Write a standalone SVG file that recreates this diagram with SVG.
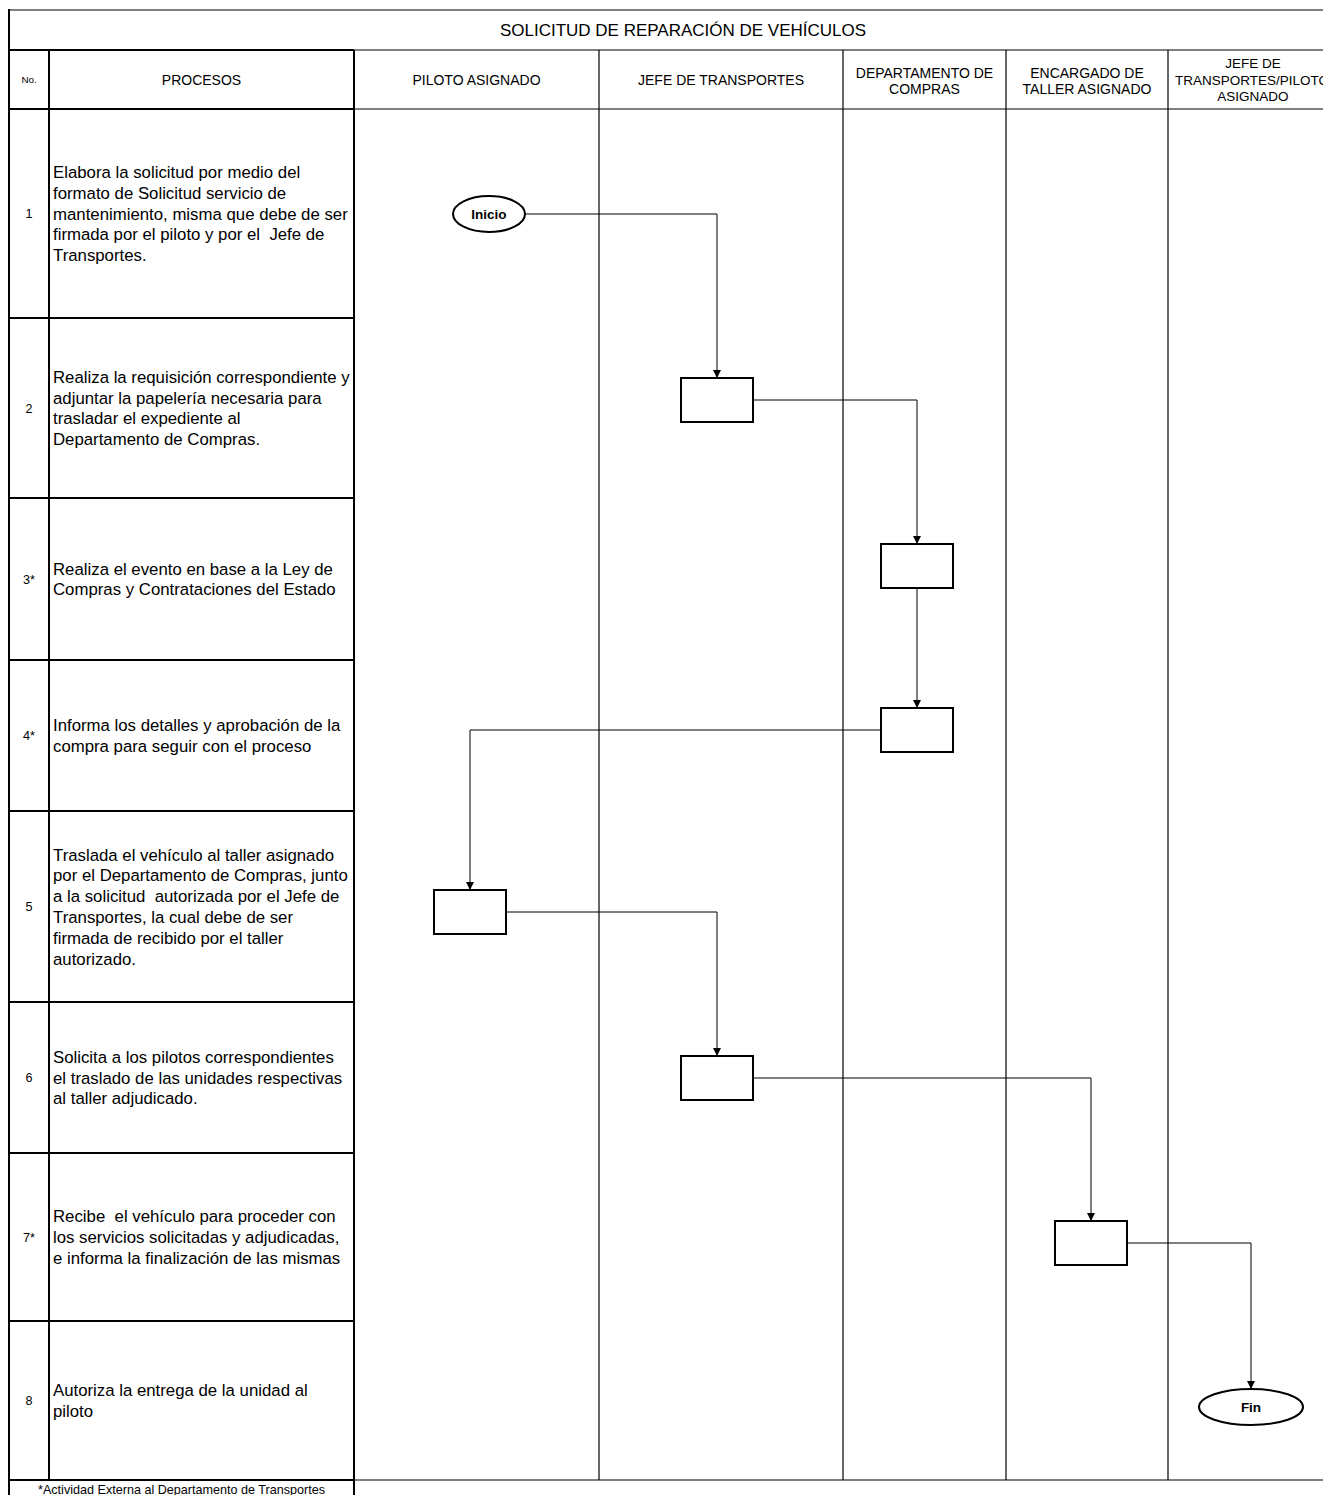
<svg xmlns="http://www.w3.org/2000/svg" width="1323" height="1495" viewBox="0 0 1323 1495">
<style>
text{font-family:"Liberation Sans",Arial,sans-serif;fill:#000}
.t{font-size:16.8px}
.h{font-size:14px;text-anchor:middle}
.n{font-size:12.6px;text-anchor:middle}
.thick{stroke:#000;stroke-width:2;fill:none}
.thin{stroke:#000;stroke-width:1.2;fill:none}
.box{fill:#fff;stroke:#000;stroke-width:2}
.term{font-size:13.5px;font-weight:bold;text-anchor:middle}
.con{stroke:#000;stroke-width:1;fill:none;marker-end:url(#arr)}
</style>
<defs>
<marker id="arr" markerUnits="userSpaceOnUse" markerWidth="8" markerHeight="8" refX="8" refY="4" orient="auto">
<path d="M0,0 L8,4 L0,8 z" fill="#000"/>
</marker>
</defs>
<rect width="1323" height="1495" fill="#fff"/>
<g id="table">
<line class="thin" x1="9" y1="10" x2="1323" y2="10"/>
<line class="thick" x1="9" y1="9" x2="9" y2="1495"/>
<line class="thin" x1="354" y1="50" x2="1323" y2="50"/>
<line class="thick" x1="9" y1="50" x2="354" y2="50"/>
<line class="thick" x1="49" y1="50" x2="49" y2="1480"/>
<line class="thick" x1="354" y1="50" x2="354" y2="1495"/>
<line class="thin" x1="354" y1="109" x2="1323" y2="109"/>
<line class="thin" x1="354" y1="1480" x2="1323" y2="1480"/>
<line class="thick" x1="9" y1="109" x2="354" y2="109"/>
<line class="thick" x1="9" y1="318" x2="354" y2="318"/>
<line class="thick" x1="9" y1="498" x2="354" y2="498"/>
<line class="thick" x1="9" y1="660" x2="354" y2="660"/>
<line class="thick" x1="9" y1="811" x2="354" y2="811"/>
<line class="thick" x1="9" y1="1002" x2="354" y2="1002"/>
<line class="thick" x1="9" y1="1153" x2="354" y2="1153"/>
<line class="thick" x1="9" y1="1321" x2="354" y2="1321"/>
<line class="thick" x1="9" y1="1480" x2="354" y2="1480"/>
<line class="thin" x1="599" y1="50" x2="599" y2="1480"/>
<line class="thin" x1="843" y1="50" x2="843" y2="1480"/>
<line class="thin" x1="1006" y1="50" x2="1006" y2="1480"/>
<line class="thin" x1="1168" y1="50" x2="1168" y2="1480"/>
<text x="683" y="36" style="font-size:17px;text-anchor:middle">SOLICITUD DE REPARACIÓN DE VEHÍCULOS</text>
<text x="29" y="83" style="font-size:9.8px;text-anchor:middle">No.</text>
<text class="h" x="201.5" y="85">PROCESOS</text>
<text class="h" x="476.5" y="85">PILOTO ASIGNADO</text>
<text class="h" x="721" y="85">JEFE DE TRANSPORTES</text>
<text class="h" x="924.5" y="77.5">DEPARTAMENTO DE</text>
<text class="h" x="924.5" y="93.5">COMPRAS</text>
<text class="h" x="1087" y="77.5">ENCARGADO DE</text>
<text class="h" x="1087" y="93.5">TALLER ASIGNADO</text>
<text class="h" x="1253" y="68" style="font-size:13.5px">JEFE DE</text>
<text class="h" x="1252" y="84.5" style="font-size:13.5px">TRANSPORTES/PILOTO</text>
<text class="h" x="1253" y="101" style="font-size:13.5px">ASIGNADO</text>
<text class="n" x="181.5" y="1494">*Actividad Externa al Departamento de Transportes</text>
</g>
<g id="row1">
<text class="n" x="29" y="218">1</text>
<text class="t" x="53" y="177.9">Elabora la solicitud por medio del</text>
<text class="t" x="53" y="198.7">formato de Solicitud servicio de</text>
<text class="t" x="53" y="219.5">mantenimiento, misma que debe de ser</text>
<text class="t" x="53" y="240.3" xml:space="preserve">firmada por el piloto y por el  Jefe de</text>
<text class="t" x="53" y="261.1">Transportes.</text>
</g>
<g id="row2">
<text class="n" x="29" y="412.5">2</text>
<text class="t" x="53" y="382.8">Realiza la requisición correspondiente y</text>
<text class="t" x="53" y="403.6">adjuntar la papelería necesaria para</text>
<text class="t" x="53" y="424.4">trasladar el expediente al</text>
<text class="t" x="53" y="445.2">Departamento de Compras.</text>
</g>
<g id="row3">
<text class="n" x="29" y="583.5">3*</text>
<text class="t" x="53" y="574.6">Realiza el evento en base a la Ley de</text>
<text class="t" x="53" y="595.4">Compras y Contrataciones del Estado</text>
</g>
<g id="row4">
<text class="n" x="29" y="740">4*</text>
<text class="t" x="53" y="731.1">Informa los detalles y aprobación de la</text>
<text class="t" x="53" y="751.9">compra para seguir con el proceso</text>
</g>
<g id="row5">
<text class="n" x="29" y="911">5</text>
<text class="t" x="53" y="860.5">Traslada el vehículo al taller asignado</text>
<text class="t" x="53" y="881.3">por el Departamento de Compras, junto</text>
<text class="t" x="53" y="902.1" xml:space="preserve">a la solicitud  autorizada por el Jefe de</text>
<text class="t" x="53" y="922.9">Transportes, la cual debe de ser</text>
<text class="t" x="53" y="943.7">firmada de recibido por el taller</text>
<text class="t" x="53" y="964.5">autorizado.</text>
</g>
<g id="row6">
<text class="n" x="29" y="1082">6</text>
<text class="t" x="53" y="1062.7">Solicita a los pilotos correspondientes</text>
<text class="t" x="53" y="1083.5">el traslado de las unidades respectivas</text>
<text class="t" x="53" y="1104.3">al taller adjudicado.</text>
</g>
<g id="row7">
<text class="n" x="29" y="1241.5">7*</text>
<text class="t" x="53" y="1222.2" xml:space="preserve">Recibe  el vehículo para proceder con</text>
<text class="t" x="53" y="1243">los servicios solicitadas y adjudicadas,</text>
<text class="t" x="53" y="1263.8">e informa la finalización de las mismas</text>
</g>
<g id="row8">
<text class="n" x="29" y="1405">8</text>
<text class="t" x="53" y="1396.1">Autoriza la entrega de la unidad al</text>
<text class="t" x="53" y="1416.9">piloto</text>
</g>
<g id="connectors">
<path class="con" d="M525,214 H717 V378"/>
<path class="con" d="M753,400 H917 V544"/>
<path class="con" d="M917,588 V708"/>
<path class="con" d="M881,730 H470 V890"/>
<path class="con" d="M506,912 H717 V1056"/>
<path class="con" d="M753,1078 H1091 V1221"/>
<path class="con" d="M1127,1243 H1251 V1389"/>
</g>
<g id="inicio">
<ellipse cx="489" cy="214" rx="36" ry="18" fill="#fff" stroke="#000" stroke-width="2"/>
<text class="term" x="489" y="219">Inicio</text>
</g>
<g id="p1"><rect class="box" x="681" y="378" width="72" height="44"/></g>
<g id="p2"><rect class="box" x="881" y="544" width="72" height="44"/></g>
<g id="p3"><rect class="box" x="881" y="708" width="72" height="44"/></g>
<g id="p4"><rect class="box" x="434" y="890" width="72" height="44"/></g>
<g id="p5"><rect class="box" x="681" y="1056" width="72" height="44"/></g>
<g id="p6"><rect class="box" x="1055" y="1221" width="72" height="44"/></g>
<g id="fin">
<ellipse cx="1251" cy="1407" rx="52" ry="18" fill="#fff" stroke="#000" stroke-width="2"/>
<text class="term" x="1251" y="1412">Fin</text>
</g>
</svg>
